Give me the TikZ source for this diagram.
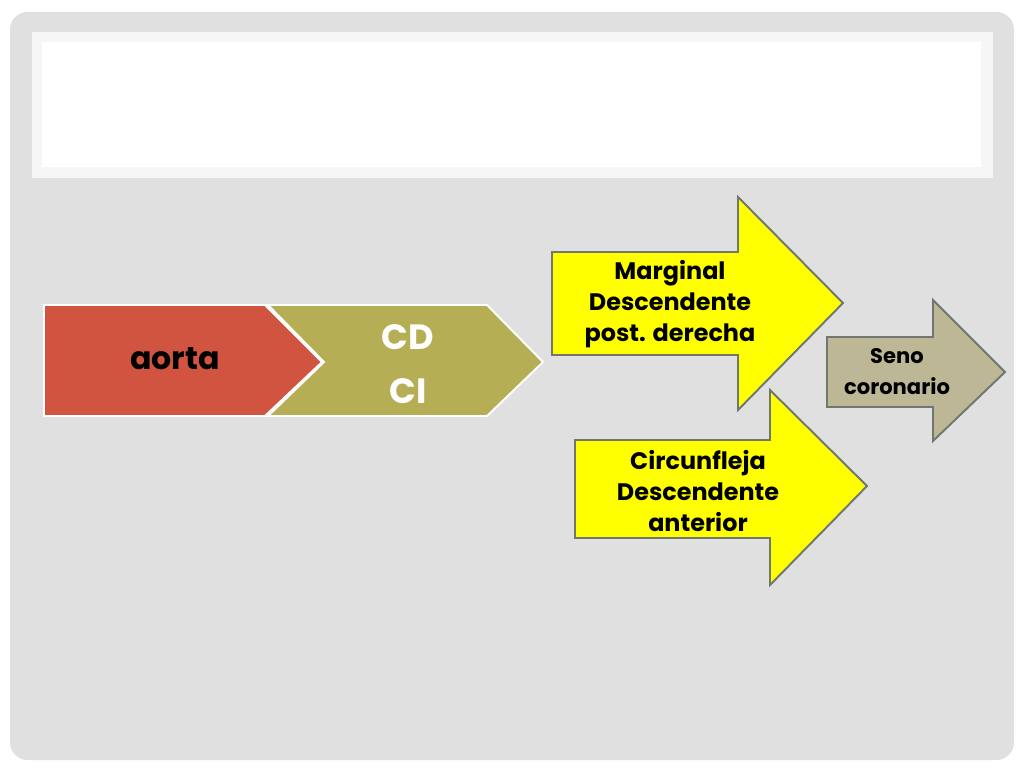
\documentclass[tikz,border=0pt]{standalone}
\usepackage{fontspec}
\setmainfont{Poppins}
\usetikzlibrary{positioning}
\definecolor{fondo}{RGB}{224,224,224}
\definecolor{titulo}{RGB}{246,246,246}
\definecolor{rojo}{RGB}{208,84,64}
\definecolor{oliva}{RGB}{182,174,84}
\definecolor{amarillo}{RGB}{255,255,0}
\definecolor{borde}{RGB}{112,118,112}
\definecolor{seno}{RGB}{189,183,150}
\tikzset{flecha/.style={draw=borde,line width=1.1pt,line join=miter},
         chevron/.style={draw=white,line width=1.1pt,line join=miter},
         txt/.style={font=\bfseries\fontsize{13.6}{17.6}\selectfont,align=center,text=black,inner sep=0pt}}

\begin{document}
\begin{tikzpicture}[x=0.02cm,y=-0.02cm]
        \useasboundingbox (0,0) rectangle (1024,768);
        \fill[white] (0,0) rectangle (1024,768);
        \fill[fondo,rounded corners=10] (10,12) rectangle (1014,760);
        \fill[titulo] (32,32) rectangle (993,178);
        \fill[white] (42,42) rectangle (981,167);

        % chevrons
        \draw[chevron,fill=oliva] (268,305) -- (487,305) -- (543,362) -- (487,416) -- (268,416) -- (324,362) -- cycle;
        \draw[chevron,fill=rojo] (44,305) -- (265,305) -- (322,362) -- (265,416) -- (44,416) -- cycle;
        \node[txt,font=\bfseries\fontsize{18}{20}\selectfont] (aorta) at (175,359) {aorta};
        \node[txt,text=white,font=\bfseries\fontsize{20}{31}\selectfont] (cdci) at (408,364) {CD\\CI};

        % arrows
        \draw[flecha,fill=amarillo] (552,252) -- (738,252) -- (738,197) -- (843,303) -- (738,410) -- (738,355) -- (552,355) -- cycle;
        \node[txt] (marginal) at (670,304) {Marginal\\Descendente\\post. derecha};
        \draw[flecha,fill=amarillo] (575,440) -- (770,440) -- (770,390) -- (867,486) -- (770,585) -- (770,538) -- (575,538) -- cycle;
        \node[txt] (circunfleja) at (698,491) {Circunfleja\\Descendente\\anterior};
        \draw[flecha,fill=seno] (827,337) -- (933,337) -- (933,300) -- (1005,372) -- (933,441) -- (933,407) -- (827,407) -- cycle;
        \node[txt,font=\bfseries\fontsize{12}{17.6}\selectfont] (seno) at (897,372) {Seno\\coronario};
\end{tikzpicture}
\end{document}
